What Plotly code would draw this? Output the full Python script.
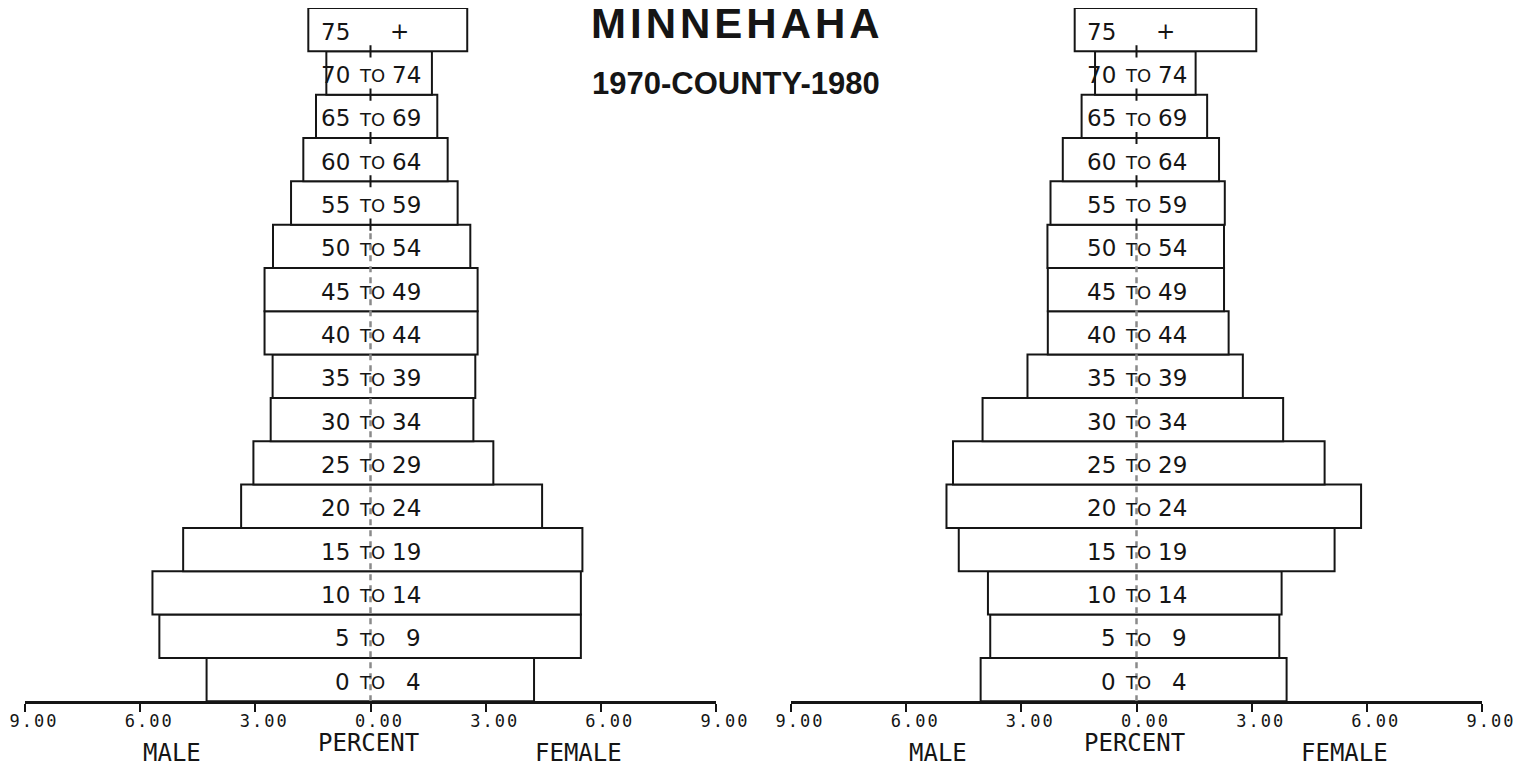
import plotly.graph_objects as go

# ---------------- data (bottom row first) ----------------
age_lo = ["0", "5", "10", "15", "20", "25", "30", "35", "40", "45", "50", "55", "60", "65", "70", "75"]
age_hi = ["4", "9", "14", "19", "24", "29", "34", "39", "44", "49", "54", "59", "64", "69", "74", "+"]

male_1970 = [4.27, 5.50, 5.68, 4.88, 3.37, 3.05, 2.60, 2.55, 2.76, 2.76, 2.54, 2.07, 1.75, 1.42, 1.15, 1.62]
female_1970 = [4.26, 5.48, 5.48, 5.52, 4.47, 3.20, 2.68, 2.73, 2.79, 2.79, 2.60, 2.27, 2.01, 1.74, 1.60, 2.52]

male_1980 = [4.06, 3.81, 3.87, 4.63, 4.95, 4.78, 4.01, 2.84, 2.31, 2.31, 2.32, 2.24, 1.92, 1.43, 1.08, 1.61]
female_1980 = [3.91, 3.72, 3.78, 5.16, 5.85, 4.90, 3.82, 2.77, 2.40, 2.28, 2.28, 2.30, 2.15, 1.84, 1.54, 3.12]

tick_vals = [-9, -6, -3, 0, 3, 6, 9]
tick_text = ["9.00", "6.00", "3.00", "0.00", "3.00", "6.00", "9.00"]

title_text = "MINNEHAHA"
subtitle_text = "1970-COUNTY-1980"

# ---------------- figure ----------------
W, H = 1522, 767
OFF_X, OFF_Y = 8.0, 8.5   # page body margin compensation
INK = "#151515"
rows = list(range(len(age_lo)))
n = len(rows)


def px(xp):
    return min(1.0, max(0.0, (xp - OFF_X) / W))


def py(yp):
    return min(1.0, max(0.0, 1 - (yp - OFF_Y) / H))


fig = go.Figure()

# short black centre marks on the upper row boundaries
mark_x, mark_y = [], []
for b in range(n - 6, n - 1):
    mark_x += [0, 0, None]
    mark_y += [b + 0.5 - 0.14, b + 0.5 + 0.14, None]

panels = [("x", "y", male_1970, female_1970), ("x2", "y2", male_1980, female_1980)]
for xa, ya, male, female in panels:
    fig.add_trace(go.Bar(
        orientation="h",
        y=rows,
        x=[m + f for m, f in zip(male, female)],
        base=[-m for m in male],
        width=1.0,
        marker=dict(color="white", line=dict(color=INK, width=2)),
        xaxis=xa, yaxis=ya, showlegend=False, hoverinfo="skip",
    ))
    fig.add_trace(go.Scatter(
        x=[0, 0], y=[-0.5, n - 5.7], mode="lines",
        line=dict(color="#8a8a8a", width=2.5, dash="6px,5px"),
        xaxis=xa, yaxis=ya, showlegend=False, hoverinfo="skip",
    ))
    fig.add_trace(go.Scatter(
        x=mark_x, y=mark_y, mode="lines",
        line=dict(color=INK, width=2),
        xaxis=xa, yaxis=ya, showlegend=False, hoverinfo="skip",
    ))

annotations = []
NUM_FONT = dict(family="DejaVu Sans", size=23, color=INK)
TO_FONT = dict(family="DejaVu Sans", size=18, color=INK)
LAB_FONT = dict(family="DejaVu Sans Mono", size=24, color=INK)
for xa, ya, _, _ in panels:
    for i in rows:
        annotations.append(dict(xref=xa, yref=ya, x=0, y=i, text=age_lo[i], showarrow=False,
                                xanchor="right", yanchor="middle", xshift=-19, yshift=-2, font=NUM_FONT))
        if age_hi[i] == "+":
            annotations.append(dict(xref=xa, yref=ya, x=0, y=i, text="+", showarrow=False,
                                    xanchor="center", yanchor="middle", xshift=29, yshift=-1, font=NUM_FONT))
        else:
            annotations.append(dict(xref=xa, yref=ya, x=0, y=i, text="TO", showarrow=False,
                                    xanchor="center", yanchor="middle", xshift=1, yshift=-3, font=TO_FONT))
            annotations.append(dict(xref=xa, yref=ya, x=0, y=i, text=age_hi[i], showarrow=False,
                                    xanchor="right", yanchor="middle", xshift=52, yshift=-2, font=NUM_FONT))
    annotations.append(dict(xref=xa, yref="paper", x=-5.16, y=py(753), text="MALE",
                            showarrow=False, xanchor="center", yanchor="middle", font=LAB_FONT))
    annotations.append(dict(xref=xa, yref="paper", x=-0.05, y=py(743), text="PERCENT",
                            showarrow=False, xanchor="center", yanchor="middle", font=LAB_FONT))
    annotations.append(dict(xref=xa, yref="paper", x=5.43, y=py(753), text="FEMALE",
                            showarrow=False, xanchor="center", yanchor="middle", font=LAB_FONT))

annotations.append(dict(xref="paper", yref="paper", x=px(737), y=py(24),
                        text='<span style="letter-spacing:4px">' + title_text + '</span>',
                        showarrow=False, xanchor="center", yanchor="middle",
                        font=dict(family="Liberation Sans", size=42, color=INK, weight="bold")))
annotations.append(dict(xref="paper", yref="paper", x=px(736), y=py(84), text=subtitle_text,
                        showarrow=False, xanchor="center", yanchor="middle",
                        font=dict(family="Liberation Sans", size=31, color=INK, weight="bold")))

ydom = [py(701.7), py(8.3)]
xcommon = dict(range=[-9, 9], tickvals=tick_vals,
               ticktext=['<span style="letter-spacing:2px">' + t + '</span>' for t in tick_text],
               showline=True, linecolor=INK, linewidth=2.5, ticks="outside", ticklen=8,
               tickwidth=2, tickcolor=INK, showgrid=False, zeroline=False, fixedrange=True,
               automargin=False, ticklabelstandoff=-5,
               tickfont=dict(family="DejaVu Sans Mono", size=17, color=INK), ticklabelshift=9)
ycommon = dict(range=[-0.5, n - 0.5], visible=False, domain=ydom, fixedrange=True,
               automargin=False)

fig.update_layout(
    width=W, height=H,
    margin=dict(l=0, r=0, t=0, b=0, autoexpand=False),
    paper_bgcolor="white", plot_bgcolor="white",
    xaxis=dict(domain=[px(25), px(716)], anchor="y", **xcommon),
    xaxis2=dict(domain=[px(791), px(1482)], anchor="y2", **xcommon),
    yaxis=dict(anchor="x", **ycommon),
    yaxis2=dict(anchor="x2", **ycommon),
    barmode="overlay",
    annotations=annotations,
)

fig.write_html("out.html")
